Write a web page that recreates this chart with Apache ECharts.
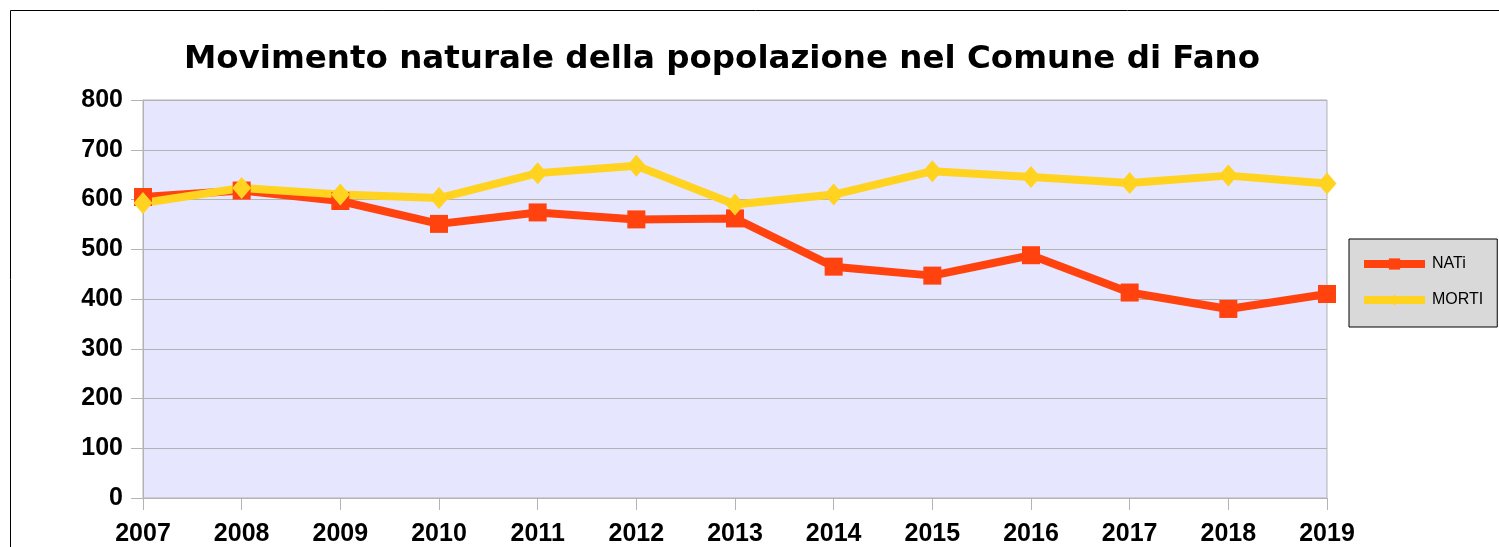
<!DOCTYPE html>
<html>
<head>
<meta charset="utf-8">
<title>Movimento naturale della popolazione</title>
<script src="https://cdn.jsdelivr.net/npm/echarts@6/dist/echarts.min.js"></script>
<style>
  html, body { margin: 0; padding: 0; background: #fff; }
  #chart { width: 1499px; height: 547px; }
</style>
</head>
<body>
<div id="chart"></div>
<script>
// anni
const anni = ['2007', '2008', '2009', '2010', '2011', '2012', '2013', '2014', '2015', '2016', '2017', '2018', '2019']
// nati e morti per anno
const nati = [605, 618, 597, 551, 574, 560, 562, 465, 447, 488, 413, 380, 410]
const morti = [593, 623, 610, 603, 653, 668, 590, 610, 657, 645, 633, 648, 632]
const nomiSerie = ['NATi', 'MORTI']

const chart = echarts.init(document.getElementById('chart'))

const labelFont = 'Liberation Sans, Arial, sans-serif'

chart.setOption({
  animation: false,
  title: {
    text: 'Movimento naturale della popolazione nel Comune di Fano',
    left: 717,
    top: 38,
    textAlign: 'center',
    textStyle: {
      fontFamily: 'DejaVu Sans',
      fontWeight: 'bold',
      fontSize: 32.5,
      color: '#000'
    }
  },
  // cornice esterna
  graphic: [{
    type: 'rect',
    shape: { x: 10.5, y: 10.5, width: 2000, height: 2000 },
    style: { fill: 'none', stroke: '#000', lineWidth: 1 },
    silent: true
  }],
  legend: {
    orient: 'vertical',
    left: 1349,
    top: 239,
    padding: [17, 14, 19, 11],
    itemWidth: 61,
    itemHeight: 14,
    itemGap: 20,
    backgroundColor: '#d9d9d9',
    borderColor: '#000',
    borderWidth: 1,
    lineStyle: { width: 8 },
    textStyle: {
      fontFamily: labelFont,
      fontSize: 16,
      color: '#000',
      padding: [0, 0, 0, 2]
    },
    data: nomiSerie
  },
  grid: {
    left: 143,
    top: 100,
    right: 172,
    bottom: 49,
    show: true,
    backgroundColor: '#e6e6ff',
    borderColor: '#b3b3b3',
    borderWidth: 1
  },
  xAxis: {
    type: 'category',
    data: anni,
    boundaryGap: false,
    axisLine: { lineStyle: { color: '#b3b3b3' } },
    axisTick: { length: 12, lineStyle: { color: '#b3b3b3' } },
    axisLabel: {
      margin: 24,
      fontFamily: labelFont,
      fontWeight: 'bold',
      fontSize: 25,
      color: '#000'
    },
    splitLine: { show: false }
  },
  yAxis: {
    type: 'value',
    min: 0,
    max: 800,
    interval: 100,
    axisLine: { show: true, lineStyle: { color: '#b3b3b3' } },
    axisTick: { show: true, length: 12, lineStyle: { color: '#b3b3b3' } },
    axisLabel: {
      margin: 20,
      padding: [5, 0, 0, 0],
      fontFamily: labelFont,
      fontWeight: 'bold',
      fontSize: 25,
      color: '#000'
    },
    splitLine: { lineStyle: { color: '#b3b3b3' } }
  },
  series: [
    {
      name: nomiSerie[0],
      type: 'line',
      data: nati,
      symbol: 'rect',
      symbolSize: 18,
      color: '#ff420e',
      lineStyle: { width: 8, color: '#ff420e' },
      itemStyle: { color: '#ff420e' }
    },
    {
      name: nomiSerie[1],
      type: 'line',
      data: morti,
      symbol: 'diamond',
      symbolSize: [19, 22],
      color: '#ffd320',
      lineStyle: { width: 8, color: '#ffd320' },
      itemStyle: { color: '#ffd320' }
    }
  ]
})
</script>
</body>
</html>
